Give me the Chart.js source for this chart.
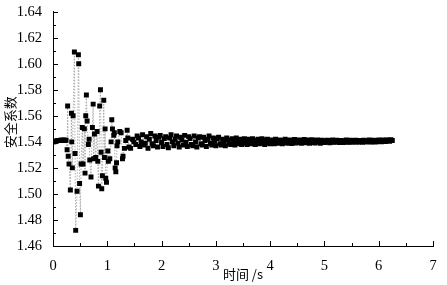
<!DOCTYPE html>
<html>
<head>
<meta charset="utf-8">
<script src="https://cdn.jsdelivr.net/npm/chart.js@4"></script>
<style>
  body { margin: 0; background: #fff; }
</style>
</head>
<body>
<canvas id="chart" width="447" height="285"></canvas>
<script>
// time (s) and safety factor
var startTimes = [0.00, 0.02, 0.04, 0.06, 0.08, 0.10, 0.12, 0.14, 0.16, 0.18, 0.20, 0.22, 0.24];
var startValues = [1.5400, 1.5400, 1.5405, 1.5405, 1.5410, 1.5410, 1.5410, 1.5412, 1.5412, 1.5412, 1.5413, 1.5413, 1.5413];

var swingTimes = [0.26, 0.27, 0.28, 0.295, 0.32, 0.34, 0.345, 0.357, 0.37, 0.394,
  0.406, 0.418, 0.443, 0.468, 0.474, 0.49, 0.505, 0.517, 0.54, 0.554,
  0.578, 0.59, 0.603, 0.615, 0.628, 0.652, 0.665, 0.677, 0.70, 0.726,
  0.74, 0.75, 0.763, 0.788, 0.812, 0.825, 0.837, 0.86, 0.874, 0.886,
  0.898, 0.91, 0.935, 0.948, 0.96, 0.972, 0.985, 1.01, 1.02, 1.046,
  1.07, 1.083, 1.095, 1.12, 1.13, 1.145, 1.157, 1.17, 1.18, 1.194,
  1.23, 1.255, 1.28, 1.29, 1.317, 1.34, 1.366, 1.378, 1.40, 1.43,
  1.465, 1.49];
var swingValues = [1.534, 1.5675, 1.529, 1.523, 1.503, 1.562, 1.540, 1.520, 1.560, 1.609,
  1.531, 1.472, 1.502, 1.607, 1.600, 1.508, 1.484, 1.523, 1.551, 1.523,
  1.550, 1.516, 1.560, 1.576, 1.556, 1.538, 1.542, 1.526, 1.513, 1.551,
  1.569, 1.527, 1.546, 1.528, 1.548, 1.525, 1.506, 1.5675, 1.580, 1.532,
  1.504, 1.514, 1.572, 1.528, 1.550, 1.512, 1.509, 1.533, 1.525, 1.527,
  1.540, 1.557, 1.550, 1.545, 1.547, 1.520, 1.517, 1.524, 1.537, 1.540,
  1.548, 1.547, 1.527, 1.529, 1.535, 1.541, 1.549, 1.543, 1.536, 1.535,
  1.542, 1.540];

var settleTimes = [1.525, 1.550, 1.575, 1.600, 1.625, 1.650, 1.675, 1.700, 1.725, 1.750,
  1.775, 1.800, 1.825, 1.850, 1.875, 1.900, 1.925, 1.950, 1.975, 2.000,
  2.025, 2.050, 2.075, 2.100, 2.125, 2.150, 2.175, 2.200, 2.225, 2.250,
  2.275, 2.300, 2.325, 2.350, 2.375, 2.400, 2.425, 2.450, 2.475, 2.500,
  2.525, 2.550, 2.575, 2.600, 2.625, 2.650, 2.675, 2.700, 2.725, 2.750,
  2.775, 2.800, 2.825, 2.850, 2.875, 2.900, 2.925, 2.950, 2.975, 3.000,
  3.025, 3.050, 3.075, 3.100, 3.125, 3.150, 3.175, 3.200, 3.225, 3.250,
  3.275, 3.300, 3.325, 3.350, 3.375, 3.400, 3.425, 3.450, 3.475, 3.500,
  3.525, 3.550, 3.575, 3.600, 3.625, 3.650, 3.675, 3.700, 3.725, 3.750,
  3.775, 3.800, 3.825, 3.850, 3.875, 3.900, 3.925, 3.950, 3.975, 4.000,
  4.025, 4.050, 4.075, 4.100, 4.125, 4.150, 4.175, 4.200, 4.225, 4.250,
  4.275, 4.300, 4.325, 4.350, 4.375, 4.400, 4.425, 4.450, 4.475, 4.500,
  4.525, 4.550, 4.575, 4.600, 4.625, 4.650, 4.675, 4.700, 4.725, 4.750,
  4.775, 4.800, 4.825, 4.850, 4.875, 4.900, 4.925, 4.950, 4.975, 5.000,
  5.025, 5.050, 5.075, 5.100, 5.125, 5.150, 5.175, 5.200, 5.225, 5.250,
  5.275, 5.300, 5.325, 5.350, 5.375, 5.400, 5.425, 5.450, 5.475, 5.500,
  5.525, 5.550, 5.575, 5.600, 5.625, 5.650, 5.675, 5.700, 5.725, 5.750,
  5.775, 5.800, 5.825, 5.850, 5.875, 5.900, 5.925, 5.950, 5.975, 6.000,
  6.025, 6.050, 6.075, 6.100, 6.125, 6.150, 6.175, 6.200, 6.225, 6.250];
var settleValues = [1.5380, 1.5445, 1.5430, 1.5365, 1.5400, 1.5455, 1.5375, 1.5390, 1.5440, 1.5350,
  1.5420, 1.5465, 1.5385, 1.5370, 1.5445, 1.5410, 1.5360, 1.5435, 1.5450, 1.5395,
  1.5365, 1.5425, 1.5440, 1.5380, 1.5355, 1.5430, 1.5455, 1.5400, 1.5370, 1.5420,
  1.5445, 1.5390, 1.5360, 1.5435, 1.5415, 1.5375, 1.5450, 1.5395, 1.5365, 1.5440,
  1.5425, 1.5380, 1.5370, 1.5445, 1.5400, 1.5360, 1.5430, 1.5440, 1.5385, 1.5375,
  1.5435, 1.5410, 1.5365, 1.5420, 1.5445, 1.5390, 1.5375, 1.5430, 1.5405, 1.5370,
  1.5425, 1.5435, 1.5385, 1.5375, 1.5420, 1.5400, 1.5370, 1.5430, 1.5415, 1.5385,
  1.5380, 1.5425, 1.5410, 1.5375, 1.5430, 1.5395, 1.5385, 1.5420, 1.5380, 1.5415,
  1.5425, 1.5390, 1.5380, 1.5420, 1.5405, 1.5385, 1.5425, 1.5410, 1.5380, 1.5395,
  1.5420, 1.5385, 1.5400, 1.5425, 1.5390, 1.5380, 1.5415, 1.5420, 1.5390, 1.5385,
  1.5415, 1.5405, 1.5385, 1.5420, 1.5395, 1.5390, 1.5415, 1.5400, 1.5385, 1.5410,
  1.5420, 1.5395, 1.5390, 1.5415, 1.5405, 1.5388, 1.5412, 1.5418, 1.5392, 1.5395,
  1.5415, 1.5400, 1.5390, 1.5412, 1.5418, 1.5393, 1.5398, 1.5415, 1.5390, 1.5405,
  1.5416, 1.5395, 1.5392, 1.5410, 1.5414, 1.5396, 1.5390, 1.5412, 1.5408, 1.5394,
  1.5396, 1.5412, 1.5405, 1.5393, 1.5410, 1.5414, 1.5397, 1.5399, 1.5413, 1.5402,
  1.5395, 1.5411, 1.5408, 1.5394, 1.5403, 1.5414, 1.5398, 1.5396, 1.5412, 1.5406,
  1.5397, 1.5410, 1.5413, 1.5399, 1.5398, 1.5411, 1.5405, 1.5396, 1.5412, 1.5409,
  1.5398, 1.5404, 1.5414, 1.5400, 1.5399, 1.5413, 1.5408, 1.5398, 1.5411, 1.5415,
  1.5403, 1.5401, 1.5414, 1.5410, 1.5402, 1.5415, 1.5412, 1.5404, 1.5416, 1.5410];

var xTicks = [0, 1, 2, 3, 4, 5, 6, 7];
var yTicks = [1.46, 1.48, 1.50, 1.52, 1.54, 1.56, 1.58, 1.60, 1.62, 1.64];

var times = startTimes.concat(swingTimes, settleTimes);
var values = startValues.concat(swingValues, settleValues);

var points = [];
for (var i = 0; i < times.length; i++) {
  points.push({ x: times[i], y: values[i] });
}

// ticks pointing into the plot, with a minor tick halfway
var inwardTicks = {
  id: 'inwardTicks',
  afterDraw: function(chart) {
    var ctx = chart.ctx;
    var area = chart.chartArea;
    var xs = chart.scales.x;
    var ys = chart.scales.y;
    ctx.save();
    ctx.strokeStyle = '#000';
    ctx.lineWidth = 1;
    ctx.beginPath();
    for (var i = 0; i < xTicks.length; i++) {
      var px = Math.round(xs.getPixelForValue(xTicks[i])) + 0.5;
      ctx.moveTo(px, area.bottom);
      ctx.lineTo(px, area.bottom - 5);
      if (i < xTicks.length - 1) {
        var mx = Math.round(xs.getPixelForValue((xTicks[i] + xTicks[i + 1]) / 2)) + 0.5;
        ctx.moveTo(mx, area.bottom);
        ctx.lineTo(mx, area.bottom - 3);
      }
    }
    for (var j = 0; j < yTicks.length; j++) {
      var py = Math.round(ys.getPixelForValue(yTicks[j])) + 0.5;
      ctx.moveTo(area.left, py);
      ctx.lineTo(area.left + 5, py);
      if (j < yTicks.length - 1) {
        var my = Math.round(ys.getPixelForValue((yTicks[j] + yTicks[j + 1]) / 2)) + 0.5;
        ctx.moveTo(area.left, my);
        ctx.lineTo(area.left + 3, my);
      }
    }
    ctx.stroke();
    ctx.restore();
  }
};

var tickFont = { family: 'Liberation Serif', size: 14.5 };

new Chart(document.getElementById('chart'), {
  type: 'scatter',
  data: {
    datasets: [{
      data: points,
      showLine: true,
      borderColor: '#9a9a9a',
      borderWidth: 0.8,
      borderDash: [1.5, 1.5],
      pointStyle: 'rect',
      pointRadius: 3.5,
      pointBorderWidth: 0,
      pointBackgroundColor: '#000',
      backgroundColor: '#000'
    }]
  },
  options: {
    responsive: false,
    animation: false,
    layout: {
      padding: { top: 10, right: 14, left: 0, bottom: 0 }
    },
    plugins: {
      legend: { display: false },
      tooltip: { enabled: false }
    },
    scales: {
      x: {
        type: 'linear',
        min: 0,
        max: 7,
        grid: { display: false },
        border: { display: true, color: '#000', width: 1 },
        afterBuildTicks: function(scale) {
          scale.ticks = xTicks.map(function(v) { return { value: v }; });
        },
        ticks: {
          color: '#000',
          font: tickFont,
          padding: 3,
          maxRotation: 0,
          callback: function(v) { return String(v); }
        },
        title: {
          display: true,
          text: '时间 /s',
          color: '#000',
          font: { family: 'Noto Sans CJK SC', size: 13 },
          padding: { top: 0, bottom: 3 }
        },
        afterFit: function(scale) { scale.height = 39; }
      },
      y: {
        min: 1.46,
        max: 1.64,
        grid: { display: false },
        border: { display: true, color: '#000', width: 1 },
        afterBuildTicks: function(scale) {
          scale.ticks = yTicks.map(function(v) { return { value: v }; });
        },
        ticks: {
          color: '#000',
          font: tickFont,
          padding: 3,
          callback: function(v) { return v.toFixed(2); }
        },
        title: {
          display: true,
          // leading ideographic space nudges the rotated title up a little
          text: '\u3000安全系数',
          color: '#000',
          font: { family: 'Noto Sans CJK SC', size: 13 },
          padding: { top: 2, bottom: 0 }
        },
        afterFit: function(scale) { scale.width = 53; }
      }
    }
  },
  plugins: [inwardTicks]
});
</script>
</body>
</html>
